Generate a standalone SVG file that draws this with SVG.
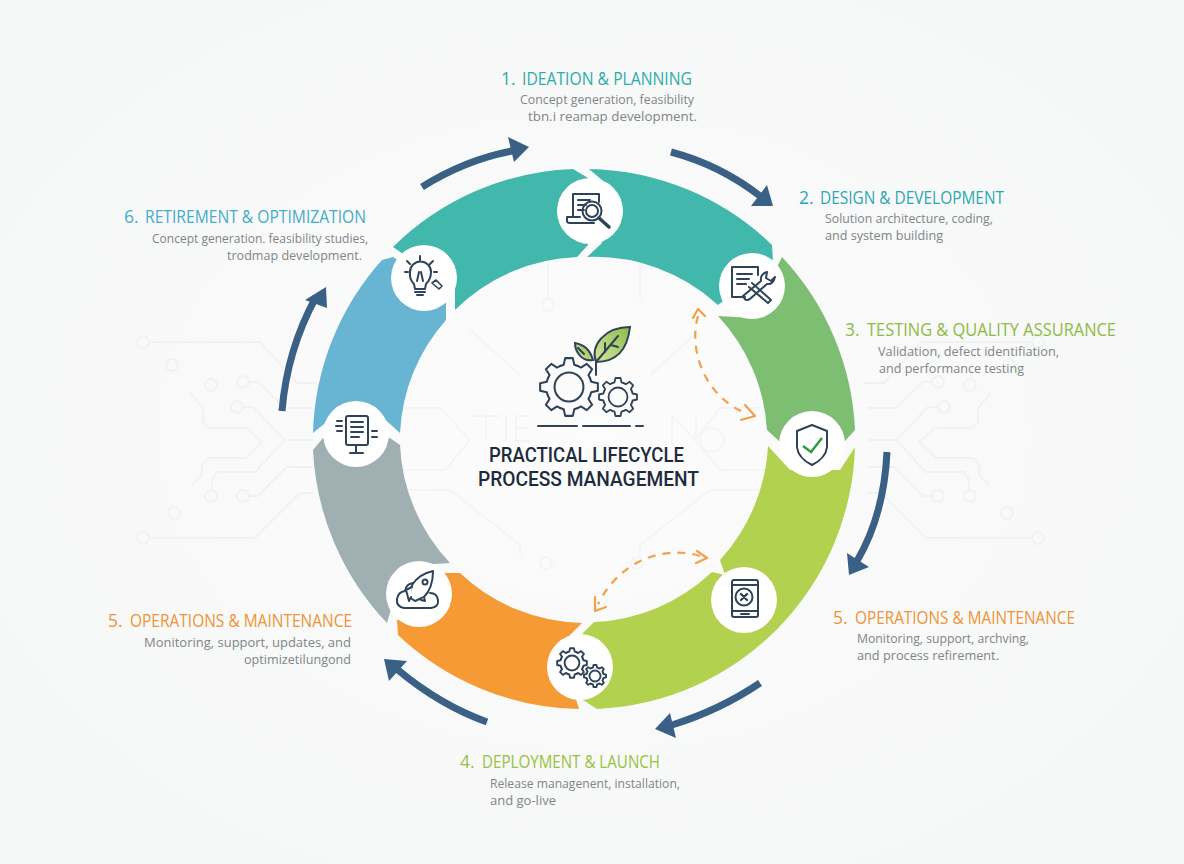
<svg xmlns="http://www.w3.org/2000/svg" xmlns:xlink="http://www.w3.org/1999/xlink" width="1184" height="864" viewBox="0 0 1184 864">
<style>
text{font-family:"Open Sans","Noto Sans","Liberation Sans",sans-serif}
.t{font-size:17.5px;font-weight:500}
.d{font-size:13.5px;fill:#808588}
.c{font-family:Roboto,"Liberation Sans",sans-serif;font-size:20px;font-weight:500;fill:#1d2c3c}
.ic{fill:none;stroke:#2f4358;stroke-width:2;stroke-linecap:round;stroke-linejoin:round}
.disc{fill:#fff}
.tr{fill:none;stroke:#f0f1f1;stroke-width:1.8}
.ctr{fill:none;stroke:#f4f4f4;stroke-width:1.8}
.nav{fill:none;stroke:#3a6085;stroke-width:7}
.hd{fill:#3a6085}
.og{fill:none;stroke:#f2a049;stroke-width:2.2;stroke-dasharray:8 7}
.ogh{fill:none;stroke:#f2a049;stroke-width:2.2;stroke-linecap:round;stroke-linejoin:round}
</style>
<defs>
<radialGradient id="bg" cx="50%" cy="50%" r="70%"><stop offset="0" stop-color="#fcfcfc"/><stop offset="1" stop-color="#f5f6f6"/></radialGradient>
<linearGradient id="lf" x1="0" y1="1" x2="1" y2="0"><stop offset="0" stop-color="#d6e5a0"/><stop offset="1" stop-color="#8dbb45"/></linearGradient>
<g id="seg"><path d="M-11.5,-27.7L-7,-29.2L-5,-38L5,-38L7,-29.2L11.5,-27.7"/></g>
<g id="gear">
<use xlink:href="#seg" href="#seg"/><use href="#seg" transform="rotate(45)"/><use href="#seg" transform="rotate(90)"/><use href="#seg" transform="rotate(135)"/><use href="#seg" transform="rotate(180)"/><use href="#seg" transform="rotate(225)"/><use href="#seg" transform="rotate(270)"/><use href="#seg" transform="rotate(315)"/>
<circle r="19"/>
</g>
<g id="traces" class="tr">
<path d="M190,393L203,408V422L210,428H247L262,442L245,458H208L202,465V475L192,485"/>
<circle cx="237" cy="407" r="6"/><path d="M243,407H253L285,440H313M285,440L255,472H217L212,480V490"/><circle cx="211" cy="496" r="6"/>
<circle cx="243" cy="382" r="6"/><path d="M249,382H258L285,408H313"/>
<circle cx="243" cy="496" r="6"/><path d="M249,496H258L287,467H313"/>
<circle cx="143" cy="538" r="6"/><path d="M149,538H255L300,493H313"/>
<circle cx="143" cy="342" r="6"/><path d="M149,342H260L297,383H317"/>
<circle cx="172" cy="365" r="6"/><circle cx="211" cy="385" r="6"/><circle cx="174" cy="513" r="6"/>
</g>
</defs>
<rect width="1184" height="864" fill="url(#bg)"/>
<g id="background-circuit">
<use href="#traces"/>
<use href="#traces" transform="translate(1181,0) scale(-1,1)"/>
<g class="ctr">
<path d="M402,408H440L470,440L445,470H402M402,490H450L520,545V556M760,408H720L695,440L720,470H768M768,490H710L640,545V556M470,330L520,375M700,330L650,375M640,257V300M548,257V299"/>
<circle cx="546" cy="563" r="6"/><circle cx="637" cy="563" r="6"/><circle cx="548" cy="305" r="6"/>
<path d="M472,416H500M486,416V441M506,416V441M516,416H530M516,416V441H530M516,428H528M672,441V416L696,441V416M712,428A12,12 0 1 0 712.1,428"/>
</g>
</g>
<g id="ring">
<path id="seg-ideation" fill="#42b8ac" d="M393,247A270,270 0 0 1 573,169L588,178V245L577,257A183,183 0 0 0 455,310L455,290ZM589,169A270,270 0 0 1 772,245L773,262L718,305A183,183 0 0 0 587,257L602,243V180Z"/>
<path id="seg-testing" fill="#7dbe73" d="M782,257A270,270 0 0 1 855,430L845,441H779L767,430A183,183 0 0 0 718,316L752,318Z"/>
<path id="seg-operations" fill="#b2d14e" d="M768,446L790,470L840,470L855,447A270,270 0 0 1 597,709L583,700V633L594,622A183,183 0 0 0 712,572L725,575L720,560A183,183 0 0 0 768,446Z"/>
<path id="seg-deployment" fill="#f59a35" d="M445,573H460A183,183 0 0 0 582,623L565,640L570,680L579,709A270,270 0 0 1 398,635L397,620L430,610Z"/>
<path id="seg-maintenance" fill="#9fafb2" d="M313,450L323,438H390L400,445A183,183 0 0 0 450,563L420,565L395,595L387,623A270,270 0 0 1 313,450Z"/>
<path id="seg-retirement" fill="#68b5d3" d="M313,433A270,270 0 0 1 382,260L393,257L420,275L446,303V320A183,183 0 0 0 400,433L380,415H335Z"/>
</g>
<g id="connectors">
<path class="nav" d="M422,187Q465,160 512,151"/><path class="hd" d="M529,147L508,137L514,162Z"/>
<path class="nav" d="M671,152Q720,165 760,196"/><path class="hd" d="M773,206L751,206L767,185Z"/>
<path class="nav" d="M887,452Q884,515 857,561"/><path class="hd" d="M849,575L847,553L869,567Z"/>
<path class="nav" d="M760,683Q720,710 672,725"/><path class="hd" d="M655,729L670,713L676,738Z"/>
<path class="nav" d="M487,722Q440,705 398,670"/><path class="hd" d="M384,659L407,661L389,681Z"/>
<path class="nav" d="M282,411Q287,350 316,297"/><path class="hd" d="M326,287L305,300L327,308Z"/>
<path class="og" d="M698,316C688,350 705,398 748,414"/>
<path class="ogh" d="M693,318L698,309L705,316M745,405L755,416L741,420"/>
<path class="og" d="M700,556C665,545 620,560 598,604"/>
<path class="ogh" d="M697,551L707,558L696,563M595,597L595,611L606,607"/>
</g>
<g id="node-ideation">
<circle class="disc" cx="590" cy="211" r="33"/>
<g class="ic"><path d="M573,217V194H599V202M578,200H590M578,205H586M578,210H584M567,217H580M567,217V221Q567,223 570,223H594"/><circle cx="592" cy="211" r="9.5"/><circle cx="592" cy="211" r="6"/><path d="M599,218L609,227" stroke-width="3.5"/></g>
<text class="t" x="501" y="85" fill="#2cadaa">1.</text>
<text class="t" x="522" y="85" fill="#2cadaa" textLength="170" lengthAdjust="spacingAndGlyphs">IDEATION &amp; PLANNING</text>
<text class="d" x="520" y="104" textLength="174" lengthAdjust="spacingAndGlyphs">Concept generation, feasibility</text>
<text class="d" x="528" y="121" textLength="169" lengthAdjust="spacingAndGlyphs">tbn.i reamap development.</text>
</g>
<g id="node-design">
<circle class="disc" cx="752" cy="286" r="33"/>
<g class="ic"><path d="M758,275V267H732V297H745M737,274H752M737,279H749M737,284H746M767,272Q760,274 761,281L743,296Q746,303 751,298L767,284Q773,285 775,277L771,281L766,278Z"/><path d="M752,283L771,300L768,303L749,287" stroke-width="2"/></g>
<text class="t" x="799" y="204" fill="#2ba8b4">2.</text>
<text class="t" x="820" y="204" fill="#2ba8b4" textLength="184" lengthAdjust="spacingAndGlyphs">DESIGN &amp; DEVELOPMENT</text>
<text class="d" x="825" y="223" textLength="168" lengthAdjust="spacingAndGlyphs">Solution architecture, coding,</text>
<text class="d" x="825" y="240" textLength="118" lengthAdjust="spacingAndGlyphs">and system building</text>
</g>
<g id="node-testing">
<circle class="disc" cx="812" cy="444" r="33"/>
<path class="ic" d="M812,425L827,431V447Q826,458 812,465Q798,458 797,447V431Z"/>
<path d="M803,446L811,452L822,438" fill="none" stroke="#2ea043" stroke-width="2.6"/>
<text class="t" x="845" y="336" fill="#8dbb45">3.</text>
<text class="t" x="867" y="336" fill="#8dbb45" textLength="249" lengthAdjust="spacingAndGlyphs">TESTING &amp; QUALITY ASSURANCE</text>
<text class="d" x="878" y="356" textLength="181" lengthAdjust="spacingAndGlyphs">Validation, defect identifiation,</text>
<text class="d" x="879" y="373" textLength="145" lengthAdjust="spacingAndGlyphs">and performance testing</text>
</g>
<g id="node-operations">
<circle class="disc" cx="744" cy="600" r="33"/>
<g class="ic"><rect x="732" y="580" width="26" height="37" rx="2"/><path d="M732,585H758M732,611H758M741,614H749"/><circle cx="744" cy="597" r="8.5"/><path d="M741,594L747,600M747,594L741,600" stroke-width="2.4"/></g>
<text class="t" x="833" y="624" fill="#ee9436">5.</text>
<text class="t" x="855" y="624" fill="#ee9436" textLength="220" lengthAdjust="spacingAndGlyphs">OPERATIONS &amp; MAINTENANCE</text>
<text class="d" x="857" y="643" textLength="172" lengthAdjust="spacingAndGlyphs">Monitoring, support, archving,</text>
<text class="d" x="857" y="660" textLength="142" lengthAdjust="spacingAndGlyphs">and process refirement.</text>
</g>
<g id="node-deployment">
<circle class="disc" cx="580" cy="667" r="33"/>
<g class="ic"><use href="#gear" transform="translate(572,663) scale(.39)" style="stroke-width:5"/><use href="#gear" transform="translate(595,676) scale(.29)" style="stroke-width:6.5"/></g>
<text class="t" x="460" y="768" fill="#96c23c">4.</text>
<text class="t" x="482" y="768" fill="#96c23c" textLength="178" lengthAdjust="spacingAndGlyphs">DEPLOYMENT &amp; LAUNCH</text>
<text class="d" x="490" y="788" textLength="190" lengthAdjust="spacingAndGlyphs">Release managenent, installation,</text>
<text class="d" x="490" y="805" textLength="66" lengthAdjust="spacingAndGlyphs">and go-live</text>
</g>
<g id="node-maintenance">
<circle class="disc" cx="419" cy="594" r="33"/>
<g class="ic"><path d="M404,608H431Q439,607 438,600Q437,593 430,593M404,608Q396,607 397,599Q398,592 405,591Q406,584 413,583Q417,582 419,585"/><path d="M433,571Q419,574 412,585L409,597L415,601L424,597Q433,588 433,571Z" fill="#fff"/><circle cx="425" cy="582" r="2.5"/><path d="M412,587L406,590L409,601L411,597M424,597L425,601L421,600" fill="#fff"/></g>
<text class="t" x="108" y="627" fill="#ee9436">5.</text>
<text class="t" x="130" y="627" fill="#ee9436" textLength="222" lengthAdjust="spacingAndGlyphs">OPERATIONS &amp; MAINTENANCE</text>
<text class="d" x="144" y="647" textLength="207" lengthAdjust="spacingAndGlyphs">Monitoring, support, updates, and</text>
<text class="d" x="244" y="664" textLength="107" lengthAdjust="spacingAndGlyphs">optimizetilungond</text>
</g>
<g id="node-server">
<circle class="disc" cx="356" cy="434" r="33"/>
<g class="ic"><rect x="346" y="416" width="22" height="29" rx="2"/><path d="M351,422H363M351,427H363M351,432H363M351,437H359M356,445V453M350,453H363M337,421H342M336,426H342M337,431H342M372,431H377M372,437H377"/></g>
</g>
<g id="node-retirement">
<circle class="disc" cx="424" cy="278" r="33"/>
<g class="ic"><path d="M414,284Q409,279 410,272A10.5,10.5 0 0 1 431,272Q431,279 426,284L425,289H415ZM415,292H425M417,295H423M417,281L419,272M423,281L421,272M420,256V260M407,261L410,264M433,261L430,264M405,272H408M434,272H437"/><path d="M432,283L439,289L442,286L436,280Z" stroke-width="1.6"/></g>
<text class="t" x="124" y="223" fill="#45adcb">6.</text>
<text class="t" x="145" y="223" fill="#45adcb" textLength="221" lengthAdjust="spacingAndGlyphs">RETIREMENT &amp; OPTIMIZATION</text>
<text class="d" x="152" y="243" textLength="216" lengthAdjust="spacingAndGlyphs">Concept generation. feasibility studies,</text>
<text class="d" x="227" y="260" textLength="135" lengthAdjust="spacingAndGlyphs">trodmap development.</text>
</g>
<g id="node-center">
<path d="M596,362C590,345 605,327 630,327C628,345 620,362 596,362Z" fill="url(#lf)" stroke="#2f4358" stroke-width="2"/>
<path d="M593,360C590,350 585,345 575,343C575,352 582,362 593,360Z" fill="url(#lf)" stroke="#2f4358" stroke-width="2"/>
<g class="ic"><path d="M596,375V362L618,336M605,352V343M611,345L618,347M584,354L578,348"/>
<g style="stroke-width:2.7"><use href="#gear" transform="translate(569,387) scale(.76)"/></g>
<g style="stroke-width:3.6"><use href="#gear" transform="translate(618,397) scale(.5)"/></g>
<path d="M538,426H577M583,426H630M636,426H643"/></g>
<text class="c" x="489" y="462" textLength="195" lengthAdjust="spacingAndGlyphs">PRACTICAL LIFECYCLE</text>
<text class="c" x="478" y="485.5" textLength="221" lengthAdjust="spacingAndGlyphs">PROCESS MANAGEMENT</text>
</g>
</svg>
